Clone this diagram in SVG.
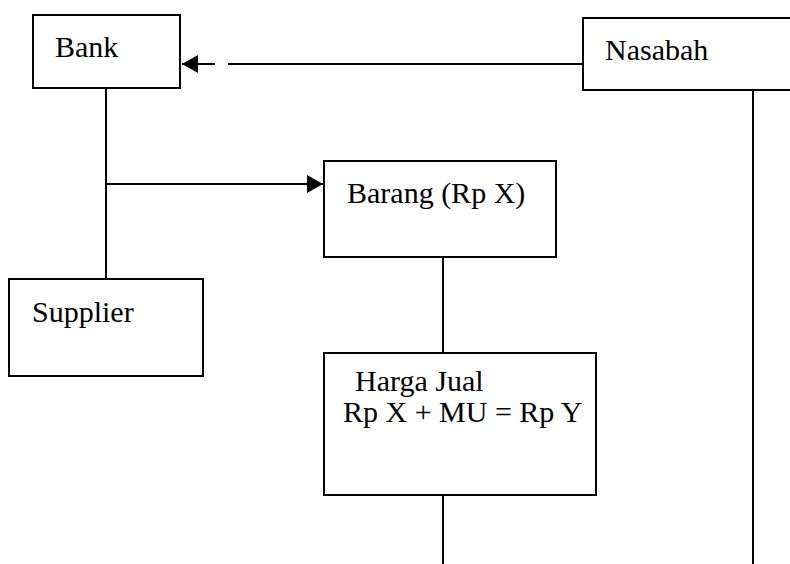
<svg xmlns="http://www.w3.org/2000/svg" width="790" height="564" viewBox="0 0 790 564">
<defs>
<style>
.box{fill:#fff;stroke:#000;stroke-width:2}
.ln{fill:none;stroke:#000;stroke-width:2}
.t{font-family:"Liberation Serif","Times New Roman",serif;font-size:30px;fill:#000}
</style>
<marker id="ah" viewBox="0 0 16 18" refX="16" refY="9" markerWidth="16" markerHeight="18" markerUnits="userSpaceOnUse" orient="auto">
<path d="M0,0 L16,9 L0,18 Z" fill="#000"/>
</marker>
</defs>
<rect width="790" height="564" fill="#fff"/>
<g id="connectors">
<path class="ln" d="M583,64 H228"/>
<path class="ln" d="M215,64 H182" marker-end="url(#ah)"/>
<path class="ln" d="M106,88 V279"/>
<path class="ln" d="M106,184 H323" marker-end="url(#ah)"/>
<path class="ln" d="M443,257 V353"/>
<path class="ln" d="M443,495 V564"/>
<path class="ln" d="M753,90 V564"/>
</g>
<g id="bank"><rect class="box" x="33" y="15" width="147" height="73"/><text class="t" x="55" y="57">Bank</text></g>
<g id="nasabah"><rect class="box" x="583" y="18" width="220" height="72"/><text class="t" x="605" y="60">Nasabah</text></g>
<g id="barang"><rect class="box" x="324" y="161" width="232" height="96"/><text class="t" x="347" y="203">Barang (Rp X)</text></g>
<g id="supplier"><rect class="box" x="9" y="279" width="194" height="97"/><text class="t" x="32" y="322">Supplier</text></g>
<g id="harga"><rect class="box" x="324" y="353" width="272" height="142"/><text class="t" x="355" y="391">Harga Jual</text><text class="t" x="343" y="422">Rp X + MU = Rp Y</text></g>
</svg>
